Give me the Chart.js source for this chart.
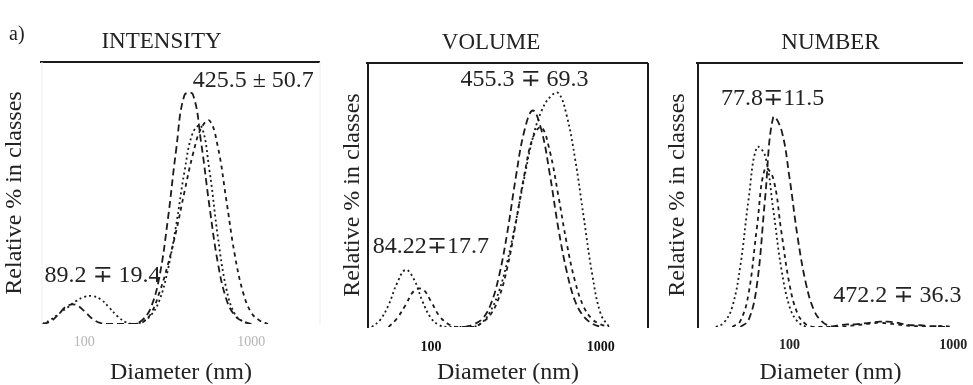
<!DOCTYPE html>
<html><head><meta charset="utf-8">
<script src="https://cdn.jsdelivr.net/npm/chart.js@4.4.1/dist/chart.umd.min.js"></script>
<style>
html,body{margin:0;padding:0;background:#fff;overflow:hidden;width:973px;height:385px}
canvas{position:absolute;top:0}
</style></head><body>
<canvas id="c1" width="330" height="385" style="left:0px"></canvas>
<canvas id="c2" width="330" height="385" style="left:330px"></canvas>
<canvas id="c3" width="313" height="385" style="left:660px"></canvas>
<script>
// ---------- text ----------
const panelTag = 'a)';
const panelTitles = ['INTENSITY', 'VOLUME', 'NUMBER'];
const xAxisTitle = 'Diameter (nm)';
const yAxisTitle = 'Relative % in classes';
const tickValues = [100, 1000];
const tickLabels = ['100', '1000'];

// ---------- INTENSITY ----------
const intensityDiameters = [56.2, 63.1, 70.8, 79.4, 89.1, 100, 112, 126, 141, 158, 178, 200, 224, 251, 282, 316, 355, 398, 447, 501, 562, 631, 708, 794, 891, 1000, 1122, 1259];
const intensityRun1 = [0, 0.3, 1.2, 2.1, 2.2, 1.5, 0.6, 0.1, 0, 0, 0, 0, 0.5, 1.9, 5.4, 11.8, 19.9, 26.2, 26.3, 20.8, 13.5, 7.0, 2.9, 1.0, 0.3, 0, null, null];
const intensityRun2 = [0, 0.5, 1.2, 1.9, 2.6, 3.1, 3.2, 2.8, 1.9, 0.9, 0.2, 0, 0.3, 1.0, 2.7, 6.1, 11.3, 17.4, 21.9, 22.7, 17.6, 10.0, 4.1, 1.2, 0.3, 0, null, null];
const intensityRun3 = [null, null, null, null, null, null, null, null, null, null, null, 0, 0.2, 1.2, 3.6, 6.7, 10.6, 15.1, 19.4, 22.4, 23.3, 20.3, 14.3, 8.1, 3.7, 1.3, 0.4, 0];
const intensityNotes = ['425.5 ± 50.7', '89.2 ∓ 19.4'];

// ---------- VOLUME ----------
const volumeDiameters = [44.7, 50.1, 56.2, 63.1, 70.8, 79.4, 89.1, 100, 112, 126, 141, 158, 178, 200, 224, 251, 282, 316, 355, 398, 447, 501, 562, 631, 708, 794, 891, 1000, 1122, 1259];
const volumeRun1 = [null, null, null, null, null, null, null, null, null, null, null, 0, 0.3, 0.9, 2.5, 5.7, 10.8, 17.0, 22.3, 24.6, 22.4, 17.4, 11.3, 6.3, 2.9, 1.2, 0.4, 0, null, null];
const volumeRun2 = [null, null, 0, 1.0, 2.5, 4.1, 4.3, 2.9, 1.25, 0.35, 0, 0, 0, 0.5, 1.4, 3.3, 6.8, 11.8, 17.3, 21.5, 22.7, 20.0, 15.0, 9.5, 5.1, 2.3, 0.9, 0.3, 0, null];
const volumeRun3 = [0, 0.8, 2.5, 5.0, 6.5, 5.4, 2.9, 1.0, 0.2, 0, 0, 0, 0, 0.5, 1.8, 4.0, 7.5, 12.0, 17.0, 21.5, 24.5, 26.1, 26.6, 24.0, 19.0, 12.5, 6.0, 1.5, 0, null];
const volumeNotes = ['455.3 ∓ 69.3', '84.22∓17.7'];

// ---------- NUMBER ----------
const numberDiameters = [31.6, 35.5, 39.8, 44.7, 50.1, 56.2, 63.1, 70.8, 79.4, 89.1, 100, 112, 126, 141, 158, 178, 200, 224, 251, 282, 316, 355, 398, 447, 501, 562, 631, 708, 794, 891, 1000, 1122];
const numberRun1 = [null, null, null, null, 0, 0.8, 4.7, 14.5, 23.8, 22.4, 16.9, 10.2, 4.9, 1.9, 0.6, 0.1, 0.2, 0.3, 0.3, 0.4, 0.5, 0.6, 0.6, 0.5, 0.3, 0.2, 0.2, 0.1, 0.1, 0, null, null];
const numberRun2 = [null, 0, 0.5, 2.3, 7.0, 14.5, 20.4, 19.5, 13.4, 6.6, 2.3, 0.6, 0, null, null, null, null, null, null, null, null, null, null, null, null, null, null, null, null, null, null, null];
const numberRun3 = [null, null, null, 0, 0.7, 3.8, 11.2, 18.0, 16.9, 10.8, 4.8, 1.5, 0.3, 0, 0, 0, 0, 0.1, 0.2, 0.3, 0.4, 0.5, 0.4, 0.3, 0.2, 0.1, 0.1, 0, 0.1, 0.1, 0, null];
const numberNotes = ['77.8∓11.5', '472.2 ∓ 36.3'];

// ---------- drawing ----------
const SERIF = '"Liberation Serif", "DejaVu Serif", "Times New Roman", serif';
const INK = '#1b1b1b';
const LONG_DASH = [7, 4], DOTS = [2, 3], SHORT_DASH = [4, 4];

function tickText(v) {
  for (let i = 0; i < tickValues.length; i++) {
    if (Math.abs(v - tickValues[i]) < 1e-6 * tickValues[i]) return tickLabels[i];
  }
  return '';
}

function toPoints(diams, vals) {
  return diams.map((d, i) => ({ x: d, y: vals[i] }));
}

const decor = {
  id: 'decor',
  afterDraw(chart, args, o) {
    const { ctx, chartArea: a, scales: { x, y } } = chart;
    ctx.save();
    (o.edges || []).forEach(e => {
      ctx.strokeStyle = e.color; ctx.lineWidth = e.w;
      ctx.beginPath();
      if (e.side === 'top') { ctx.moveTo(a.left - 2, a.top); ctx.lineTo(a.right, a.top); }
      if (e.side === 'left') { ctx.moveTo(a.left, a.top); ctx.lineTo(a.left, a.bottom + 1); }
      if (e.side === 'right') { ctx.moveTo(a.right, a.top); ctx.lineTo(a.right, a.bottom + 1); }
      ctx.stroke();
    });
    ctx.fillStyle = '#222';
    ctx.font = '24px ' + SERIF;
    ctx.textBaseline = 'middle';
    ctx.textAlign = 'left';
    (o.notes || []).forEach(n => {
      ctx.fillText(n.text, x.getPixelForValue(n.x), y.getPixelForValue(n.y));
    });
    if (o.tag) {
      ctx.font = '20px ' + SERIF;
      ctx.fillText(o.tag, 9, 35);
    }
    ctx.restore();
  }
};

function makeChart(id, p) {
  const datasets = p.runs.map((vals, i) => ({
    data: toPoints(p.diams, vals),
    borderColor: INK,
    borderWidth: 1.8,
    borderDash: p.dashes[i],
    pointRadius: 0,
    tension: 0.4,
    fill: false,
    spanGaps: false
  }));
  return new Chart(document.getElementById(id), {
    type: 'line',
    data: { datasets },
    plugins: [decor],
    options: {
      responsive: false,
      animation: false,
      devicePixelRatio: 1,
      layout: { padding: { left: 0, right: p.padRight, top: 0, bottom: 0 } },
      plugins: {
        legend: { display: false },
        tooltip: { enabled: false },
        title: {
          display: true, text: p.title, color: '#222', fullSize: p.titleFull,
          font: { family: SERIF, size: 23, weight: 'normal', lineHeight: 1 },
          padding: { top: p.titleTop, bottom: p.titleBottom }
        },
        decor: { edges: p.edges, notes: p.notes, tag: p.tag }
      },
      scales: {
        x: {
          type: 'logarithmic', min: p.xMin, max: p.xMax,
          afterFit: s => { s.height = p.xHeight; },
          grid: { display: false, drawTicks: false },
          border: { display: false },
          ticks: {
            autoSkip: false, maxRotation: 0, minRotation: 0, padding: p.tickPad,
            color: p.tickColor, font: { family: SERIF, size: 14, weight: p.tickWeight },
            callback: v => tickText(v)
          },
          title: {
            display: true, text: xAxisTitle, color: '#222',
            font: { family: SERIF, size: 24, lineHeight: 1 }, padding: { top: 0, bottom: 0 }
          }
        },
        y: {
          min: 0, max: 30,
          afterFit: s => { s.width = p.yWidth; },
          grid: { display: false, drawTicks: false },
          border: { display: false },
          ticks: { display: false },
          title: {
            display: true, text: yAxisTitle, color: '#222',
            font: { family: SERIF, size: 24, lineHeight: 1 }, padding: { top: p.yTitlePad, bottom: 0 }
          }
        }
      }
    }
  });
}

makeChart('c1', {
  title: panelTitles[0], titleFull: true, titleTop: 30, titleBottom: 9,
  diams: intensityDiameters, runs: [intensityRun1, intensityRun2, intensityRun3],
  dashes: [LONG_DASH, DOTS, SHORT_DASH],
  xMin: 55.9, xMax: 2580, xHeight: 61, yWidth: 42, padRight: 7,
  tickPad: 10, tickColor: '#b5b5b5', tickWeight: 'normal', yTitlePad: 3,
  edges: [
    { side: 'top', color: '#1b1b1b', w: 2 },
    { side: 'left', color: '#eeeeee', w: 1 },
    { side: 'right', color: '#eeeeee', w: 1 }
  ],
  notes: [
    { text: intensityNotes[0], x: 446, y: 27.9 },
    { text: intensityNotes[1], x: 57.8, y: 5.5 }
  ],
  tag: panelTag
});

makeChart('c2', {
  title: panelTitles[1], titleFull: true, titleTop: 31, titleBottom: 9,
  diams: volumeDiameters, runs: [volumeRun1, volumeRun2, volumeRun3],
  dashes: [LONG_DASH, SHORT_DASH, DOTS],
  xMin: 42.5, xMax: 1901, xHeight: 58, yWidth: 38, padRight: 8,
  tickPad: 12, tickColor: '#111', tickWeight: 'bold', yTitlePad: 11,
  edges: [
    { side: 'top', color: '#1b1b1b', w: 2 },
    { side: 'left', color: '#1b1b1b', w: 2 },
    { side: 'right', color: '#1b1b1b', w: 2 }
  ],
  notes: [
    { text: volumeNotes[0], x: 149, y: 28.1 },
    { text: volumeNotes[1], x: 45.4, y: 9.1 }
  ]
});

makeChart('c3', {
  title: panelTitles[2], titleFull: false, titleTop: 31, titleBottom: 9,
  diams: numberDiameters, runs: [numberRun1, numberRun2, numberRun3],
  dashes: [LONG_DASH, DOTS, SHORT_DASH],
  xMin: 27.6, xMax: 1145, xHeight: 58, yWidth: 38, padRight: 0,
  tickPad: 10, tickColor: '#222', tickWeight: 'bold', yTitlePad: 6,
  edges: [
    { side: 'top', color: '#1b1b1b', w: 2 },
    { side: 'left', color: '#1b1b1b', w: 2 }
  ],
  notes: [
    { text: numberNotes[0], x: 38.2, y: 25.9 },
    { text: numberNotes[1], x: 185, y: 3.6 }
  ]
});
</script>
</body></html>
